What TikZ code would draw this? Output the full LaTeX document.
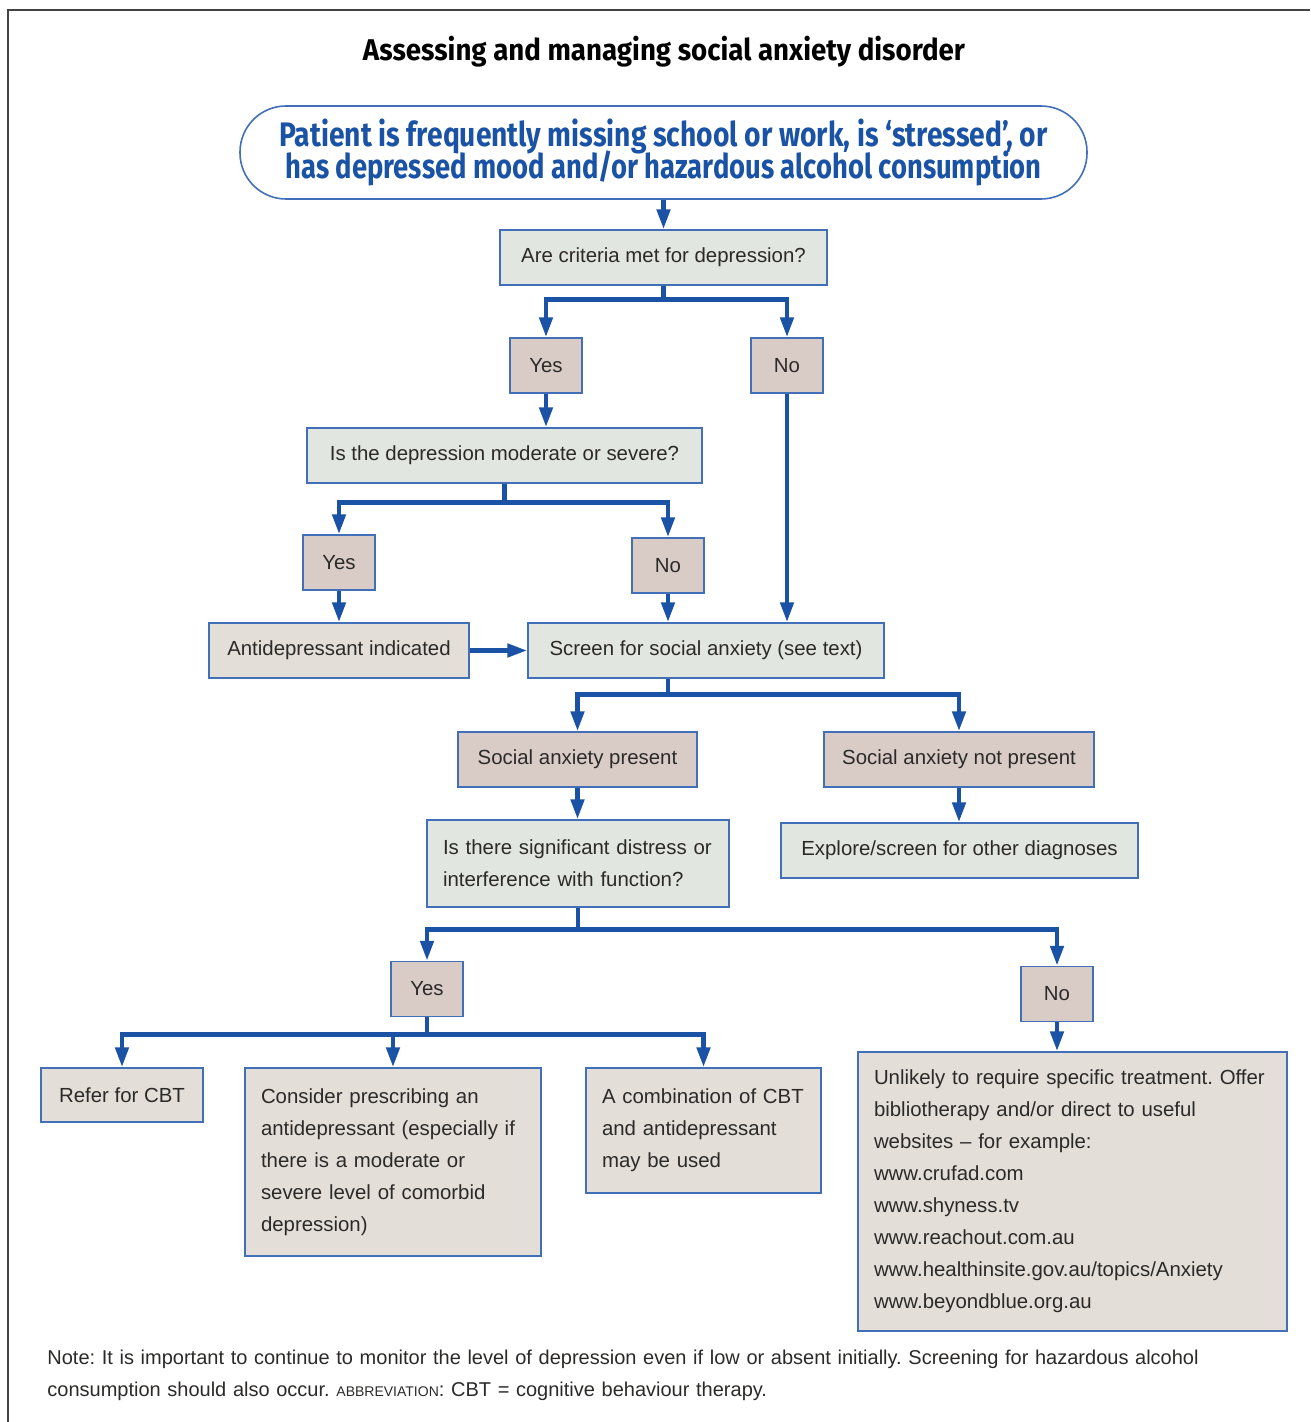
\documentclass[tikz,border=0pt]{standalone}
\usepackage{graphicx}
\usepackage{fontspec}
\setmainfont{Liberation Sans}
\newfontfamily\headfont{Fira Sans}
\usetikzlibrary{arrows.meta,calc}
\definecolor{txtc}{HTML}{2B2A29}
\definecolor{flowc}{HTML}{1A52A5}
\definecolor{edgec}{HTML}{4270B8}
\definecolor{askc}{HTML}{E2E6E0}
\definecolor{ansc}{HTML}{D9CCC7}
\definecolor{actc}{HTML}{E3DFD8}
\definecolor{framec}{HTML}{444444}
\newcommand{\fitw}[2]{\resizebox{#1}{\height}{#2}}
\newcommand{\tightlines}{\setlength{\lineskiplimit}{-20pt}}
\frenchspacing

\begin{document}
\begin{tikzpicture}[x=0.5pt, y=-0.5pt, font=\fontsize{10.2}{16}\selectfont, text=txtc,
  box/.style={draw=edgec, line width=0.7pt, inner ysep=0pt, inner xsep=8pt, align=center},
  ask/.style={box, fill=askc},
  ans/.style={box, fill=ansc, minimum width=36pt, minimum height=27.5pt},
  act/.style={box, fill=actc},
  wrap/.style={align=left, text width=#1},
  flow/.style={draw=flowc, line width=2.3pt, -{Triangle[length=10pt,width=6.5pt]}}]
 \useasboundingbox (0,0) rectangle (1310,1422);
 \draw[framec, line width=1pt] (8,1422) -- (8,10) -- (1310,10);
 \node[text=black] (ttl) at (664,52)
   {\fitw{301pt}{\headfont\bfseries\fontsize{15}{17}\selectfont Assessing and managing social anxiety disorder}};
 \node[draw=edgec, line width=0.8pt, rounded corners=23pt, minimum width=423.5pt, minimum height=46.5pt,
   text=flowc, align=center, inner sep=0pt,
   font=\headfont\bfseries\fontsize{17}{16}\selectfont\tightlines] (start) at (663.5,152.5)
   {\fitw{384pt}{Patient is frequently missing school or work, is ‘stressed’, or}\\
    \fitw{378pt}{has depressed mood and/or hazardous alcohol consumption}};
 \node[ask, minimum width=163.5pt, minimum height=27.5pt] (q1) at (663.5,257.5) {Are criteria met for depression?};
 \node[ans] (yes1) at (546,365.5) {Yes};
 \node[ans] (no1) at (787,365.5) {No};
 \node[ask, minimum width=197.5pt, minimum height=27.5pt] (q2) at (504.5,455.5) {Is the depression moderate or severe?};
 \node[ans] (yes2) at (339,562.5) {Yes};
 \node[ans] (no2) at (668,565.5) {No};
 \node[act, minimum width=130pt, minimum height=27.5pt] (anti) at (339,650.5) {Antidepressant indicated};
 \node[ask, minimum width=178pt, minimum height=27.5pt] (screen) at (706,650.5) {Screen for social anxiety (see text)};
 \node[ans, minimum width=119.5pt] (sap) at (577.5,759.5) {Social anxiety present};
 \node[ans, minimum width=135pt] (sanp) at (959,759.5) {Social anxiety not present};
 \node[ask, minimum width=151pt, minimum height=43.5pt, wrap=135pt] (q3) at (578,863.5)
   {Is there significant distress or\\interference with function?};
 \node[ask, minimum width=178.5pt, minimum height=27.5pt] (explore) at (959.5,850.5) {Explore/screen for other diagnoses};
 \node[ans] (yes3) at (427,989) {Yes};
 \node[ans] (no3) at (1057,994) {No};
 \node[act, minimum width=81pt, minimum height=27pt] (refer) at (122,1095) {Refer for CBT};
 \node[act, minimum width=148pt, minimum height=94pt, wrap=132pt] (consider) at (393,1162)
   {Consider prescribing an\\antidepressant (especially if\\there is a moderate or\\severe level of comorbid\\depression)};
 \node[act, minimum width=117.5pt, minimum height=62.5pt, wrap=101.5pt] (combo) at (703.5,1130.5)
   {A combination of CBT\\and antidepressant\\may be used};
 \node[act, minimum width=214.5pt, minimum height=139.5pt, wrap=198.5pt] (unlikely) at (1072.5,1191.5)
   {Unlikely to require specific treatment. Offer\\bibliotherapy and/or direct to useful\\websites -- for example:\\
    www.crufad.com\\www.shyness.tv\\www.reachout.com.au\\www.healthinsite.gov.au/topics/Anxiety\\www.beyondblue.org.au};
 \node[anchor=north west, align=left, inner sep=0pt, text width=640pt, font=\fontsize{10}{16}\selectfont] (note) at (47,1350)
   {Note: It is important to continue to monitor the level of depression even if low or absent initially. Screening for hazardous alcohol\\
    consumption should also occur. {\fontsize{7}{8}\selectfont ABBREVIATION}: CBT = cognitive behaviour therapy.};
 \draw[flow] (start.south) -- (q1.north);
 \draw[flow] (q1.south) -- ++(0,14) -| (yes1.north);
 \draw[flow] (q1.south) -- ++(0,14) -| (no1.north);
 \draw[flow] (yes1.south) -- (yes1.south |- q2.north);
 \draw[flow] (q2.south) -- ++(0,19) -| (yes2.north);
 \draw[flow] (q2.south) -- ++(0,19) -| (no2.north);
 \draw[flow] (yes2.south) -- (anti.north);
 \draw[flow] (no2.south) -- (no2.south |- screen.north);
 \draw[flow] (no1.south) -- (no1.south |- screen.north);
 \draw[flow] (anti.east) -- (screen.west);
 \draw[flow] (screen.south -| no2.south) -- ++(0,16) -| (sap.north);
 \draw[flow] (screen.south -| no2.south) -- ++(0,16) -| (sanp.north);
 \draw[flow] (sap.south) -- (sap.south |- q3.north);
 \draw[flow] (sanp.south) -- (sanp.south |- explore.north);
 \draw[flow] (q3.south) -- ++(0,22) -| (yes3.north);
 \draw[flow] (q3.south) -- ++(0,22) -| (no3.north);
 \draw[flow] (yes3.south) -- ++(0,17) -| (refer.north);
 \draw[flow] (yes3.south) -- ++(0,17) -| (consider.north);
 \draw[flow] (yes3.south) -- ++(0,17) -| (combo.north);
 \draw[flow] (no3.south) -- (no3.south |- unlikely.north);
\end{tikzpicture}
\end{document}
